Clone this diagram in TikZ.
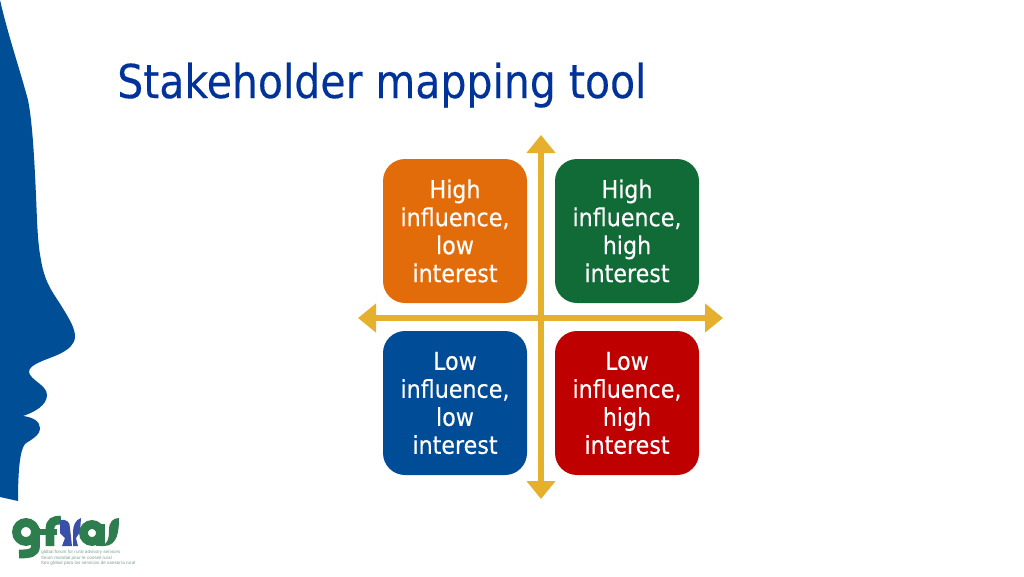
\documentclass[tikz,border=0pt]{standalone}
\usepackage{fontspec}
\setmainfont{DejaVu Sans}[FakeStretch=0.9,FakeBold=0.25]
\newfontfamily\titlefont{DejaVu Sans}[FakeStretch=0.878,FakeBold=0.3]
\newfontfamily\smallfont{Liberation Sans}
\usetikzlibrary{arrows.meta}
\definecolor{axisgold}{HTML}{E6AF2E}
\definecolor{boxorange}{HTML}{E36C0A}
\definecolor{boxgreen}{HTML}{116B36}
\definecolor{boxblue}{HTML}{004C97}
\definecolor{boxred}{HTML}{BF0000}
\definecolor{titleblue}{HTML}{003399}
\definecolor{faceblue}{HTML}{004F96}
\definecolor{logogreen}{HTML}{2E7D4F}
\definecolor{logoblue}{HTML}{3A4FA8}
\definecolor{logotext}{HTML}{7F9F8F}
\tikzset{
  quad/.style={rounded corners=16.5pt,minimum width=108pt,minimum height=108pt,inner sep=0pt,text=white,align=center,font=\fontsize{18.5}{21}\selectfont},
  axisline/.style={draw=axisgold,line width=5pt,{Triangle[width=21pt,length=13.5pt,inset=0pt]}-{Triangle[width=21pt,length=13.5pt,inset=0pt]}},
  logostroke/.style={draw=logogreen,line width=6.6pt,line cap=butt},
  logotextline/.style={anchor=west,inner sep=0pt,text=logotext,font=\smallfont\fontsize{3.45}{4}\selectfont},
}
\begin{document}
\begin{tikzpicture}[x=0.75pt,y=-0.75pt]
\useasboundingbox (0,0) rectangle (1024,576);
% silhouette
\fill[faceblue] (0,0) .. controls (8,35) and (20,70) .. (28,100)
  .. controls (33,125) and (35,170) .. (37,220)
  .. controls (38,240) and (39,250) .. (41,260)
  .. controls (45,285) and (55,295) .. (62,307)
  .. controls (70,320) and (75,328) .. (75,337)
  .. controls (74,352) and (50,357) .. (40,362)
  .. controls (33,365) and (29,368) .. (29,372)
  .. controls (30,380) and (47,385) .. (47,395)
  .. controls (47,405) and (35,412) .. (23,416)
  .. controls (32,417) and (40,421) .. (40,428)
  .. controls (40,436) and (30,440) .. (25,444)
  .. controls (20,450) and (18,470) .. (18,501)
  -- (0,497) -- cycle;
% title
\node[anchor=base west,inner sep=0pt,text=titleblue,font=\titlefont\fontsize{35}{42}\selectfont] (title) at (117,98) {Stakeholder mapping tool};
% axes
\coordinate (axT) at (541,135);
\coordinate (axB) at (541,499);
\coordinate (axL) at (358,318);
\coordinate (axR) at (723,318);
\draw[axisline] (axT) -- (axB);
\draw[axisline] (axL) -- (axR);
% quadrants
\node[quad,fill=boxorange] (hl) at (455,231) {High\\influence,\\low\\interest};
\node[quad,fill=boxgreen] (hh) at (627,231) {High\\influence,\\high\\interest};
\node[quad,fill=boxblue] (ll) at (455,403) {Low\\influence,\\low\\interest};
\node[quad,fill=boxred] (lh) at (627,403) {Low\\influence,\\high\\interest};
% logo: g
\draw[logostroke] (26,532) circle[radius=9.5];
\draw[logostroke] (35.5,528) -- (35.5,546) .. controls (35.5,553) and (30,554) .. (19,554);
% logo: f
\draw[logostroke] (50,546) -- (50,529) .. controls (50,522) and (54,520) .. (61,520);
\draw[logostroke,line width=4pt] (40,532) -- (57,532);
% logo: faces
\fill[logoblue] (60,520) .. controls (67,519) and (70,522) .. (70,528) -- (72,546) -- (62,546) -- (65,538) -- (60,533) -- cycle;
\fill[logoblue] (81,518) .. controls (75,520) and (73,526) .. (73,532) -- (73,546) -- (78,546) -- (76,538) -- (80,532) -- cycle;
% logo: a
\draw[logostroke] (92,533) circle[radius=8.5];
\draw[logostroke] (100.5,524) -- (100.5,546);
% logo: s
\fill[logogreen] (100,546) .. controls (108,545) and (109,538) .. (109,530) .. controls (109,522) and (113,518) .. (119,518)
  .. controls (119,530) and (118,546) .. (104,546) -- cycle;
% logo small text
\node[logotextline] (lg1) at (41,552) {global forum for rural advisory services};
\node[logotextline] (lg2) at (41,558) {forum mondial pour le conseil rural};
\node[logotextline] (lg3) at (41,563.5) {foro global para los servicios de asesoría rural};
\end{tikzpicture}
\end{document}
